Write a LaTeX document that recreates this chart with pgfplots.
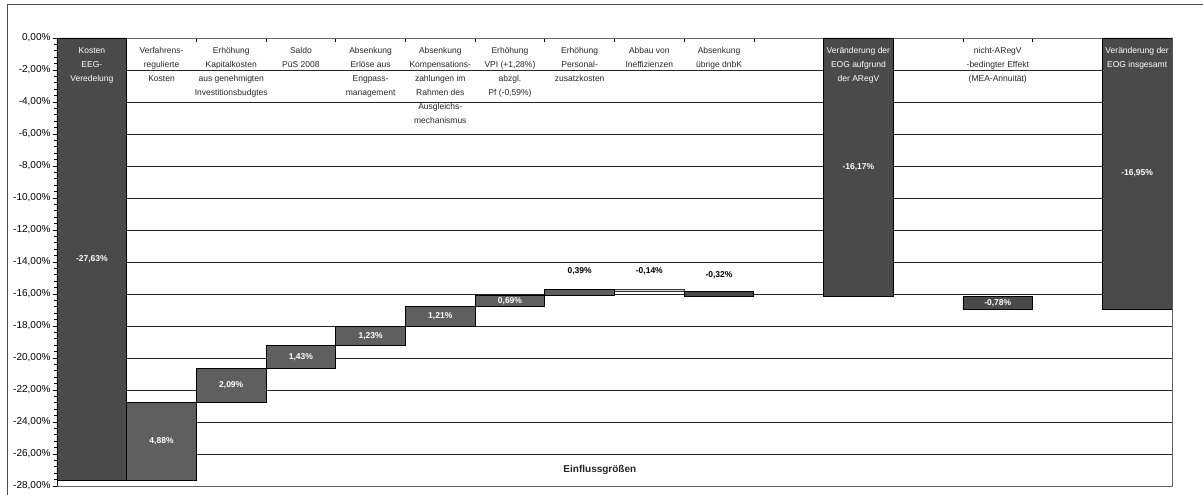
\documentclass[border=0pt]{standalone}
\usepackage{pgfplots}
\pgfplotsset{compat=1.18}
\usepackage{pgfplotstable}
\usepackage{fontspec}
\setmainfont{Liberation Sans}

\definecolor{dunkel}{HTML}{4A4A4A}
\definecolor{mittel}{HTML}{5F5F5F}
\definecolor{hell}{HTML}{D4D4D4}

% Wasserfall: unsichtbare Basis + sichtbare Segmente
\pgfplotstableread{
x  base    dunkel  mittel  hell
1  0       -27.63  0       0
2  -22.75  0       -4.88   0
3  -20.66  0       -2.09   0
4  -19.23  0       -1.43   0
5  -18.00  0       -1.23   0
6  -16.79  0       -1.21   0
7  -16.10  0       -0.69   0
8  -15.71  0       -0.39   0
9  -15.71  0       0       -0.14
10 -15.85  -0.32   0       0
12 0       -16.17  0       0
14 -16.17  -0.78   0       0
16 0       -16.95  0       0
}\wasserfall

\begin{document}
\begin{tikzpicture}
\useasboundingbox (0,0) rectangle (1203pt,-495pt);
\draw[black!70, line width=1pt] (7pt,-500pt) -- (7pt,-4.5pt) -- (1210pt,-4.5pt);
\begin{axis}[
  at={(57pt,-38pt)}, anchor=north west,
  scale only axis, width=1115pt, height=448pt,
  xmin=0.5, xmax=16.5, ymin=-28, ymax=0,
  ybar stacked, bar width=1,
  axis line style={black!60, line width=0.8pt},
  xtick={0.5,1.5,...,16.5}, xticklabels={}, xtick pos=right, xtick align=inside,
  ytick={-28,-26,...,0},
  yticklabels={{-28,00\%},{-26,00\%},{-24,00\%},{-22,00\%},{-20,00\%},{-18,00\%},{-16,00\%},{-14,00\%},{-12,00\%},{-10,00\%},{-8,00\%},{-6,00\%},{-4,00\%},{-2,00\%},{0,00\%}},
  ytick pos=left, ytick align=outside,
  minor y tick num=4,
  major tick length=4pt, minor tick length=2.5pt,
  tick style={black, line width=0.7pt},
  yticklabel style={font=\fontsize{10}{12}\selectfont, xshift=1pt},
  ymajorgrids, major grid style={black!85, line width=0.7pt},
  every axis plot/.append style={draw=black, line width=0.8pt},
]
\addplot[draw=none, fill=none] table[x=x, y=base] {\wasserfall};
\addplot[fill=dunkel] table[x=x, y=dunkel] {\wasserfall};
\addplot[fill=mittel] table[x=x, y=mittel] {\wasserfall};
\addplot[fill=hell, draw=black!80] table[x=x, y=hell] {\wasserfall};

\coordinate (lo) at (rel axis cs:0,0);
\coordinate (lu) at (rel axis cs:0,1);
\coordinate (k1) at (axis cs:1,-0.6);
\coordinate (k2) at (axis cs:2,-0.6);
\coordinate (k3) at (axis cs:3,-0.6);
\coordinate (k4) at (axis cs:4,-0.6);
\coordinate (k5) at (axis cs:5,-0.6);
\coordinate (k6) at (axis cs:6,-0.6);
\coordinate (k7) at (axis cs:7,-0.6);
\coordinate (k8) at (axis cs:8,-0.6);
\coordinate (k9) at (axis cs:9,-0.6);
\coordinate (k10) at (axis cs:10,-0.6);
\coordinate (k12) at (axis cs:12,-0.6);
\coordinate (k14) at (axis cs:14,-0.6);
\coordinate (k16) at (axis cs:16,-0.6);
\coordinate (w1) at (axis cs:1,-13.82);
\coordinate (w2) at (axis cs:2,-25.19);
\coordinate (w3) at (axis cs:3,-21.70);
\coordinate (w4) at (axis cs:4,-19.95);
\coordinate (w5) at (axis cs:5,-18.62);
\coordinate (w6) at (axis cs:6,-17.40);
\coordinate (w7) at (axis cs:7,-16.48);
\coordinate (w8) at (axis cs:8,-14.60);
\coordinate (w9) at (axis cs:9,-14.60);
\coordinate (w10) at (axis cs:10,-14.80);
\coordinate (w12) at (axis cs:12,-8.09);
\coordinate (w14) at (axis cs:14,-16.56);
\coordinate (w16) at (axis cs:16,-8.48);
\coordinate (ein) at (axis cs:8.29,-27.0);
\end{axis}

\draw[black, line width=1pt] (lo) -- (lu);

% Kategorienbeschriftungen
\tikzset{kat/.style={anchor=north, inner sep=0pt, align=center, text=black!85,
  font=\fontsize{8.5}{14}\selectfont}}
\node[kat, text=white] at (k1) {Kosten\\EEG-\\Veredelung};
\node[kat] at (k2) {Verfahrens-\\regulierte\\Kosten};
\node[kat] at (k3) {Erhöhung\\Kapitalkosten\\aus genehmigten\\Investitionsbudgtes};
\node[kat] at (k4) {Saldo\\PüS 2008};
\node[kat] at (k5) {Absenkung\\Erlöse aus\\Engpass-\\management};
\node[kat] at (k6) {Absenkung\\Kompensations-\\zahlungen im\\Rahmen des\\Ausgleichs-\\mechanismus};
\node[kat] at (k7) {Erhöhung\\VPI (+1,28\%)\\abzgl.\\Pf (-0,59\%)};
\node[kat] at (k8) {Erhöhung\\Personal-\\zusatzkosten};
\node[kat] at (k9) {Abbau von\\Ineffizienzen};
\node[kat] at (k10) {Absenkung\\übrige dnbK};
\node[kat, text=white] at (k12) {Veränderung der\\EOG aufgrund\\der ARegV};
\node[kat] at (k14) {nicht-ARegV\\-bedingter Effekt\\(MEA-Annuität)};
\node[kat, text=white] at (k16) {Veränderung der\\EOG insgesamt};

% Wertebeschriftungen
\tikzset{wert/.style={inner sep=0pt, font=\fontsize{8.5}{10}\selectfont\bfseries, text=white}}
\node[wert] at (w1) {-27,63\%};
\node[wert] at (w2) {4,88\%};
\node[wert] at (w3) {2,09\%};
\node[wert] at (w4) {1,43\%};
\node[wert] at (w5) {1,23\%};
\node[wert] at (w6) {1,21\%};
\node[wert] at (w7) {0,69\%};
\node[wert, text=black] at (w8) {0,39\%};
\node[wert, text=black] at (w9) {-0,14\%};
\node[wert, text=black] at (w10) {-0,32\%};
\node[wert] at (w12) {-16,17\%};
\node[wert] at (w14) {-0,78\%};
\node[wert] at (w16) {-16,95\%};

\node[font=\fontsize{10}{12}\selectfont\bfseries, text=black!85] at (ein) {Einflussgrößen};
\end{tikzpicture}
\end{document}
